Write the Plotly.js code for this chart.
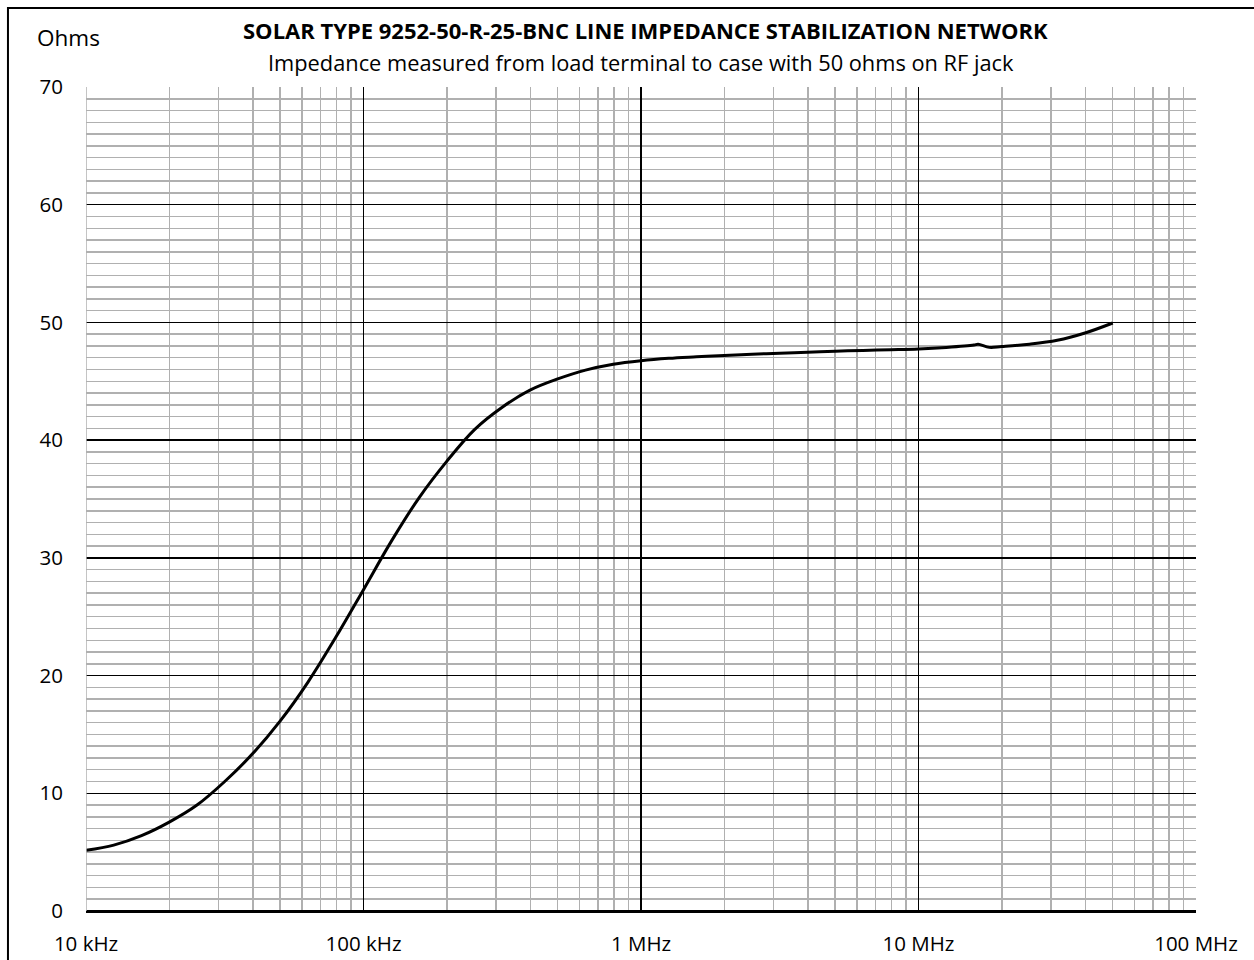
<!DOCTYPE html>
<html>
<head>
<meta charset="utf-8">
<script src="https://cdn.plot.ly/plotly-3.0.1.min.js"></script>
<style>
html,body{margin:0;padding:0;background:#fff;}
#chart{width:1254px;height:960px;}
</style>
</head>
<body>
<div id="chart"></div>
<script>
// Frequency in Hz (read at ~0.1-decade steps, plus the small bump near 16-18 MHz)
const freqHz = [10e3, 12.59e3, 15.85e3, 19.95e3, 25.12e3, 31.62e3, 39.81e3, 50.12e3, 63.1e3, 79.43e3,
  100e3, 125.9e3, 158.5e3, 199.5e3, 251.2e3, 316.2e3, 398.1e3, 501.2e3, 631e3, 794.3e3,
  1e6, 1.259e6, 1.585e6, 1.995e6, 2.512e6, 3.162e6, 3.981e6, 5.012e6, 6.31e6, 7.943e6,
  10e6, 12.59e6, 15.85e6, 16.4e6, 18e6, 19.95e6, 25.12e6, 31.62e6, 39.81e6, 50.12e6];
// Impedance in ohms
const ohms = [5.15, 5.6, 6.4, 7.55, 9.0, 11.0, 13.35, 16.15, 19.45, 23.25,
  27.3, 31.4, 35.1, 38.2, 40.9, 42.8, 44.25, 45.2, 45.95, 46.45,
  46.75, 46.95, 47.08, 47.2, 47.3, 47.38, 47.46, 47.55, 47.62, 47.68,
  47.75, 47.88, 48.08, 48.15, 47.88, 47.95, 48.15, 48.48, 49.1, 49.95];

const xTickVals = [1e4, 1e5, 1e6, 1e7, 1e8];
const xTickText = ["10 kHz", "100 kHz", "1 MHz", "10 MHz", "100 MHz"];
const yTickVals = [0, 10, 20, 30, 40, 50, 60, 70];

const titleText = "<b>SOLAR TYPE 9252-50-R-25-BNC LINE IMPEDANCE STABILIZATION NETWORK</b>";
const subtitleText = "Impedance measured from load terminal to case with 50 ohms on RF jack";
const yUnit = "Ohms";

const FONT = "'Open Sans', Lato, sans-serif";
const MINOR = "#b0b0b0";

const trace = {
  x: freqHz, y: ohms, type: "scatter", mode: "lines",
  line: {color: "#000", width: 3, shape: "spline", smoothing: 1},
  hoverinfo: "skip"
};

const layout = {
  width: 1254, height: 960,
  margin: {l: 86, r: 58, t: 87, b: 49},
  paper_bgcolor: "#fff", plot_bgcolor: "#fff",
  showlegend: false,
  font: {family: FONT, size: 20.5, color: "#000"},
  xaxis: {
    type: "log", range: [4, 8],
    tickvals: xTickVals, ticktext: xTickText,
    ticks: "", ticklabelstandoff: 18,
    showgrid: true, gridcolor: "#000", gridwidth: 1.5,
    minor: {dtick: "D1", showgrid: true, gridcolor: MINOR, gridwidth: 1.5, ticks: ""},
    showline: false, zeroline: false,
    tickfont: {family: FONT, size: 20.5, color: "#000"}
  },
  yaxis: {
    range: [0, 70], tickvals: yTickVals,
    ticks: "", ticklabelstandoff: 22,
    showgrid: true, gridcolor: "#000", gridwidth: 1.5,
    minor: {dtick: 1, showgrid: true, gridcolor: MINOR, gridwidth: 1.5, ticks: ""},
    zeroline: true, zerolinecolor: "#000", zerolinewidth: 3,
    showline: false,
    tickfont: {family: FONT, size: 20.5, color: "#000"}
  },
  shapes: [
    {type: "line", xref: "x", yref: "paper", x0: xTickVals[0], x1: xTickVals[0], y0: 0, y1: 1,
     line: {color: MINOR, width: 1.5}, layer: "above"},
    {type: "path", xref: "paper", yref: "paper",
     path: "M 1.2 1.0959 L -0.0703 1.0959 L -0.0703 -0.2",
     line: {color: "#000", width: 2}}
  ],
  annotations: [
    {text: titleText, xref: "paper", yref: "paper", x: 0.5045, y: 1.0692, xanchor: "center", yanchor: "middle",
     showarrow: false, font: {family: FONT, size: 22, color: "#000"}},
    {text: subtitleText, xref: "paper", yref: "paper", x: 0.5, y: 1.0303, xanchor: "center", yanchor: "middle",
     showarrow: false, font: {family: FONT, size: 21.8, color: "#000"}},
    {text: yUnit, xref: "paper", yref: "paper", x: -0.0162, y: 1.0595, xanchor: "center", yanchor: "middle",
     showarrow: false, font: {family: FONT, size: 22.5, color: "#000"}}
  ]
};

Plotly.newPlot("chart", [trace], layout, {displayModeBar: false, staticPlot: true});
</script>
</body>
</html>
